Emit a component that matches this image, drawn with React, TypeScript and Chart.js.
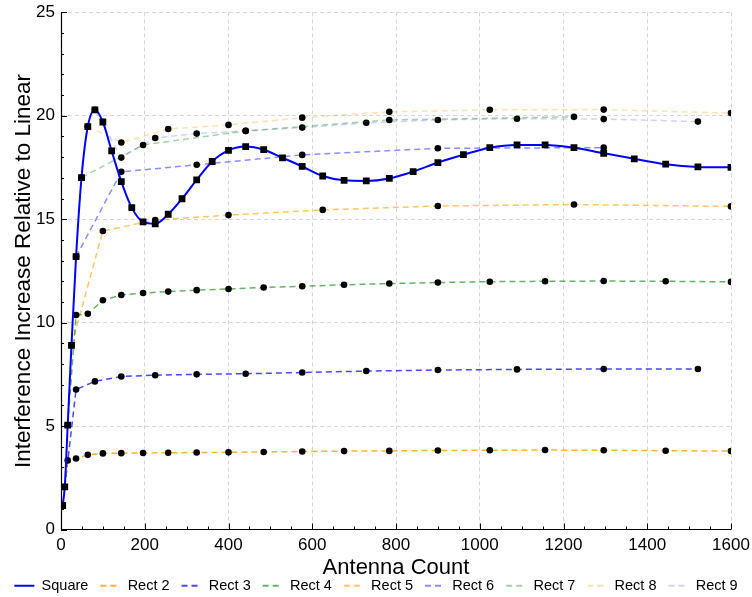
import React, { useEffect, useRef } from "react";
import { Chart, registerables } from "chart.js";

Chart.register(...registerables);

const FONT = "'Liberation Sans', Arial, Helvetica, sans-serif";

const squareX = [4, 9, 16, 25, 36, 49, 64, 81, 100, 121, 144, 169, 196, 225, 256, 289, 324, 361, 400, 441, 484, 529, 576, 625, 676, 729, 784, 841, 900, 961, 1024, 1089, 1156, 1225, 1296, 1369, 1444, 1521, 1600];
const squareY = [1.16, 2.06, 5.05, 8.9, 13.19, 17.01, 19.48, 20.29, 19.7, 18.3, 16.82, 15.56, 14.87, 14.78, 15.24, 15.99, 16.9, 17.79, 18.33, 18.51, 18.36, 17.97, 17.55, 17.09, 16.88, 16.85, 16.97, 17.3, 17.74, 18.12, 18.46, 18.59, 18.59, 18.46, 18.19, 17.92, 17.66, 17.53, 17.51];

const rect2X = [4, 16, 36, 64, 100, 144, 196, 256, 324, 400, 484, 576, 676, 784, 900, 1024, 1156, 1296, 1444, 1600];
const rect2Y = [1.16, 3.34, 3.43, 3.61, 3.68, 3.69, 3.7, 3.71, 3.72, 3.73, 3.75, 3.77, 3.79, 3.8, 3.82, 3.83, 3.84, 3.83, 3.81, 3.79];

const rect3X = [9, 36, 81, 144, 225, 324, 441, 576, 729, 900, 1089, 1296, 1521];
const rect3Y = [2.06, 6.77, 7.16, 7.4, 7.46, 7.5, 7.53, 7.59, 7.66, 7.71, 7.74, 7.76, 7.76];

const rect4X = [16, 36, 64, 100, 144, 196, 256, 324, 400, 484, 576, 676, 784, 900, 1024, 1156, 1296, 1444, 1600];
const rect4Y = [5.05, 10.37, 10.43, 11.08, 11.34, 11.43, 11.5, 11.57, 11.63, 11.7, 11.76, 11.83, 11.89, 11.94, 11.98, 12.0, 12.01, 12.0, 11.97];

const rect5X = [25, 100, 225, 400, 625, 900, 1225, 1600];
const rect5Y = [8.9, 14.43, 14.96, 15.2, 15.45, 15.64, 15.71, 15.62];

const rect6X = [36, 144, 324, 576, 900, 1296];
const rect6Y = [13.19, 17.29, 17.63, 18.11, 18.43, 18.46];

const rect7X = [49, 196, 441, 784, 1225];
const rect7Y = [17.01, 18.59, 19.27, 19.8, 19.95];

const rect8X = [64, 144, 256, 400, 576, 784, 1024, 1296, 1600];
const rect8Y = [19.48, 18.71, 19.36, 19.56, 19.91, 20.19, 20.29, 20.3, 20.13];

const rect9X = [81, 144, 225, 324, 441, 576, 729, 900, 1089, 1296, 1521];
const rect9Y = [20.29, 17.98, 18.93, 19.14, 19.27, 19.43, 19.66, 19.8, 19.86, 19.84, 19.72];

const xTicks = [0, 200, 400, 600, 800, 1000, 1200, 1400, 1600];
const yTicks = [0, 5, 10, 15, 20, 25];

const seriesLabels = ["Square", "Rect 2", "Rect 3", "Rect 4", "Rect 5", "Rect 6", "Rect 7", "Rect 8", "Rect 9"];
const seriesColors = [
  "rgb(0,0,255)",
  "rgba(255,160,0,0.8)",
  "rgba(0,0,255,0.72)",
  "rgba(0,128,0,0.6)",
  "rgba(255,160,0,0.6)",
  "rgba(0,0,255,0.45)",
  "rgba(0,128,0,0.35)",
  "rgba(255,160,0,0.3)",
  "rgba(0,0,255,0.18)",
];

const pairs = (xs: number[], ys: number[]) => xs.map((x, i) => ({ x, y: ys[i] }));

const axisPlugin = {
  id: "axisTicks",
  afterDatasetsDraw(chart: any) {
    const { ctx, chartArea, scales } = chart;
    const xs = scales.x;
    const ys = scales.y;
    ctx.save();
    ctx.strokeStyle = "#000";
    ctx.lineWidth = 1;
    ctx.beginPath();
    for (let v = 0; v <= 25; v += 1) {
      const y = Math.round(ys.getPixelForValue(v)) + 0.5;
      const len = v % 5 === 0 ? 6 : 3;
      ctx.moveTo(chartArea.left, y);
      ctx.lineTo(chartArea.left + len, y);
    }
    for (let v = 0; v <= 1600; v += 50) {
      const x = Math.round(xs.getPixelForValue(v)) + 0.5;
      const len = v % 200 === 0 ? 6 : 3;
      ctx.moveTo(x, chartArea.bottom);
      ctx.lineTo(x, chartArea.bottom - len);
    }
    ctx.stroke();
    ctx.lineWidth = 1.2;
    ctx.beginPath();
    ctx.moveTo(Math.round(chartArea.left) + 0.5, chartArea.top);
    ctx.lineTo(Math.round(chartArea.left) + 0.5, chartArea.bottom);
    ctx.lineTo(chartArea.right, chartArea.bottom);
    ctx.stroke();
    ctx.restore();
  },
};

export default function App() {
  const ref = useRef<HTMLCanvasElement>(null);

  useEffect(() => {
    if (!ref.current) return;
    const xsList = [squareX, rect2X, rect3X, rect4X, rect5X, rect6X, rect7X, rect8X, rect9X];
    const ysList = [squareY, rect2Y, rect3Y, rect4Y, rect5Y, rect6Y, rect7Y, rect8Y, rect9Y];
    const datasets = seriesLabels.map((label, i) => {
      const isSquare = i === 0;
      return {
        label,
        data: pairs(xsList[i], ysList[i]),
        borderColor: seriesColors[i],
        backgroundColor: seriesColors[i],
        borderWidth: isSquare ? 2 : 1.5,
        borderDash: isSquare ? [] : [6, 4],
        tension: 0,
        cubicInterpolationMode: isSquare ? "monotone" : "default",
        pointStyle: isSquare ? "rect" : "circle",
        pointRadius: isSquare ? 4.8 : 3.3,
        pointBackgroundColor: "#000",
        pointBorderColor: "#000",
        pointBorderWidth: 0,
        fill: false,
      };
    });

    const chart = new Chart(ref.current, {
      type: "line",
      data: { datasets: datasets as any },
      plugins: [axisPlugin],
      options: {
        animation: false,
        responsive: false,
        devicePixelRatio: 1,
        layout: { padding: { top: 9, right: 0, left: 0, bottom: -6 } },
        plugins: {
          tooltip: { enabled: false },
          legend: {
            position: "bottom",
            labels: {
              usePointStyle: true,
              pointStyleWidth: 20,
              boxHeight: 14,
              padding: 12,
              color: "#000",
              font: { size: 14.5, family: FONT },
              generateLabels: (c: any) =>
                c.data.datasets.map((ds: any, i: number) => ({
                  text: ds.label,
                  strokeStyle: ds.borderColor,
                  fillStyle: ds.borderColor,
                  lineWidth: 2,
                  lineDash: ds.borderDash,
                  pointStyle: "line",
                  hidden: false,
                  datasetIndex: i,
                  fontColor: "#000",
                })),
            },
          },
        },
        scales: {
          x: {
            type: "linear",
            min: 0,
            max: 1600,
            afterBuildTicks: (s: any) => {
              s.ticks = xTicks.map((v) => ({ value: v }));
            },
            ticks: {
              color: "#000",
              font: { size: 17, family: FONT },
              padding: 6,
              maxRotation: 0,
              callback: (v: any) => String(v),
            },
            grid: { color: "#d6d6d6", drawTicks: false, lineWidth: 1 },
            border: { display: false, dash: [4, 3] },
            title: {
              display: true,
              text: "Antenna Count",
              color: "#000",
              font: { size: 22, family: FONT },
              padding: { top: 0, bottom: -15 },
            },
            afterFit: (s: any) => {
              s.height = 37;
              s.paddingLeft = 0;
              s.paddingRight = 0;
            },
          },
          y: {
            type: "linear",
            min: 0,
            max: 25,
            afterBuildTicks: (s: any) => {
              s.ticks = yTicks.map((v) => ({ value: v }));
            },
            ticks: { color: "#000", font: { size: 17, family: FONT, lineHeight: 0.75 }, padding: 6 },
            grid: { color: "#d6d6d6", drawTicks: false, lineWidth: 1 },
            border: { display: false, dash: [4, 3] },
            title: {
              display: true,
              text: "Interference Increase Relative to Linear",
              color: "#000",
              font: { size: 22.5, family: FONT },
              padding: { top: 10, bottom: 0 },
            },
            afterFit: (s: any) => {
              s.width = 61;
            },
          },
          yRight: {
            type: "linear",
            position: "right",
            min: 0,
            max: 25,
            ticks: { display: false },
            grid: { display: false, drawTicks: false },
            border: { display: false },
            afterFit: (s: any) => {
              s.width = 21;
            },
          },
        },
      } as any,
    });
    return () => chart.destroy();
  }, []);

  return (
    <div style={{ position: "absolute", left: 0, top: 0, width: 752, height: 597 }}>
      <canvas ref={ref} width={752} height={597} style={{ display: "block", width: 752, height: 597 }} />
    </div>
  );
}
